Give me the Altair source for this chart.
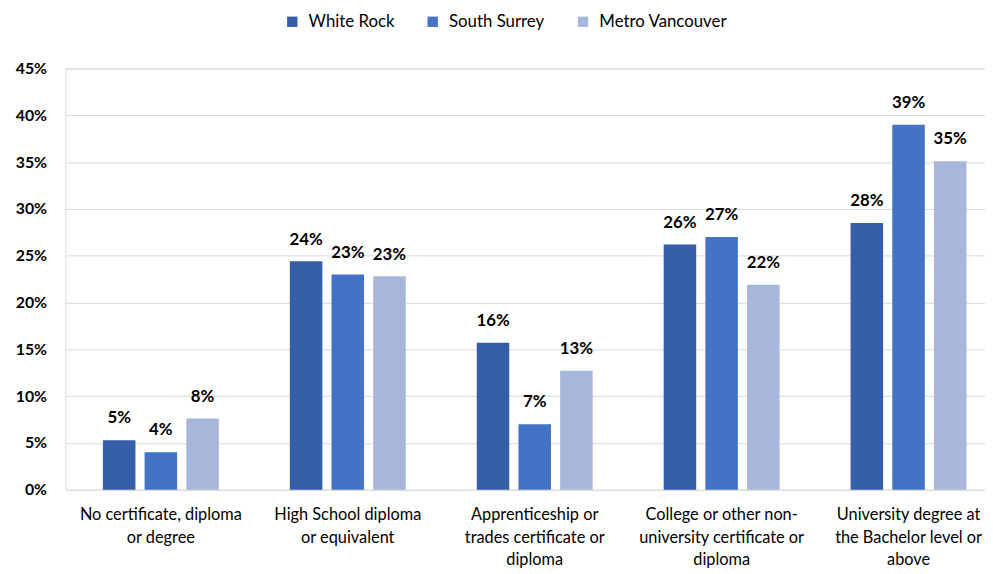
import json
import altair as alt
import pandas as pd

categories = [
    "No certificate, diploma or degree",
    "High School diploma or equivalent",
    "Apprenticeship or trades certificate or diploma",
    "College or other non-university certificate or diploma",
    "University degree at the Bachelor level or above",
]
wrapped = {
    "No certificate, diploma or degree": ["No certificate, diploma", "or degree"],
    "High School diploma or equivalent": ["High School diploma", "or equivalent"],
    "Apprenticeship or trades certificate or diploma": ["Apprenticeship or", "trades certificate or", "diploma"],
    "College or other non-university certificate or diploma": ["College or other non-", "university certificate or", "diploma"],
    "University degree at the Bachelor level or above": ["University degree at", "the Bachelor level or", "above"],
}
series = ["White Rock", "South Surrey", "Metro Vancouver"]
colors = ["#345EA6", "#4472C4", "#A9B6DB"]
white_rock = [5.3, 24.4, 15.7, 26.2, 28.5]
south_surrey = [4.0, 23.0, 7.0, 27.0, 39.0]
metro_vancouver = [7.6, 22.8, 12.7, 21.9, 35.1]

rows = []
for s, vals in zip(series, [white_rock, south_surrey, metro_vancouver]):
    for c, v in zip(categories, vals):
        rows.append({"category": c, "series": s, "value": v / 100, "label": f"{round(v):d}%"})
df = pd.DataFrame(rows)

FONT = "Lato"
label_expr = f"{json.dumps(wrapped)}[datum.value]"

x = alt.X(
    "category:N",
    sort=categories,
    scale=alt.Scale(paddingInner=0.38, paddingOuter=0.15, align=0.67),
    axis=alt.Axis(
        title=None, labelAngle=0, labelExpr=label_expr, labelFontSize=16.5,
        labelColor="#000000", labelFont=FONT, labelLineHeight=23, labelPadding=17,
        domain=False, ticks=False, labelLimit=300,
    ),
)
xo = alt.XOffset("series:N", sort=series, scale=alt.Scale(paddingInner=0.22))

bars = alt.Chart(df).mark_bar().encode(
    x=x,
    xOffset=xo,
    y=alt.Y(
        "value:Q",
        scale=alt.Scale(domain=[0, 0.45], nice=False),
        axis=alt.Axis(
            title=None, format=".0%", values=[i / 100 for i in range(0, 46, 5)],
            labelFontSize=16, labelFontWeight="bold", labelColor="#000000", labelFont=FONT,
            domain=False, ticks=False, gridColor="#d9d9d9", labelPadding=19,
        ),
    ),
    color=alt.Color(
        "series:N", sort=series, scale=alt.Scale(domain=series, range=colors),
        legend=alt.Legend(
            title=None, orient="none", direction="horizontal", legendX=221, legendY=-56,
            symbolType="square", symbolSize=110, labelFontSize=17, labelFont=FONT,
            labelColor="#000000", columnPadding=30, symbolStrokeWidth=0, labelOffset=8,
        ),
    ),
)

text = alt.Chart(df).mark_text(
    baseline="bottom", dy=-13, fontSize=17, fontWeight="bold", font=FONT, color="#000000"
).encode(x=x, xOffset=xo, y="value:Q", text="label:N")

chart = (bars + text).properties(
    width=930, height=426,
    autosize=alt.AutoSizeParams(type="none"),
    padding={"left": 58, "top": 58, "right": 0, "bottom": 80},
).configure_view(stroke=None).configure(background="white")

chart.save("out.html", embed_options={"renderer": "svg", "actions": False})
